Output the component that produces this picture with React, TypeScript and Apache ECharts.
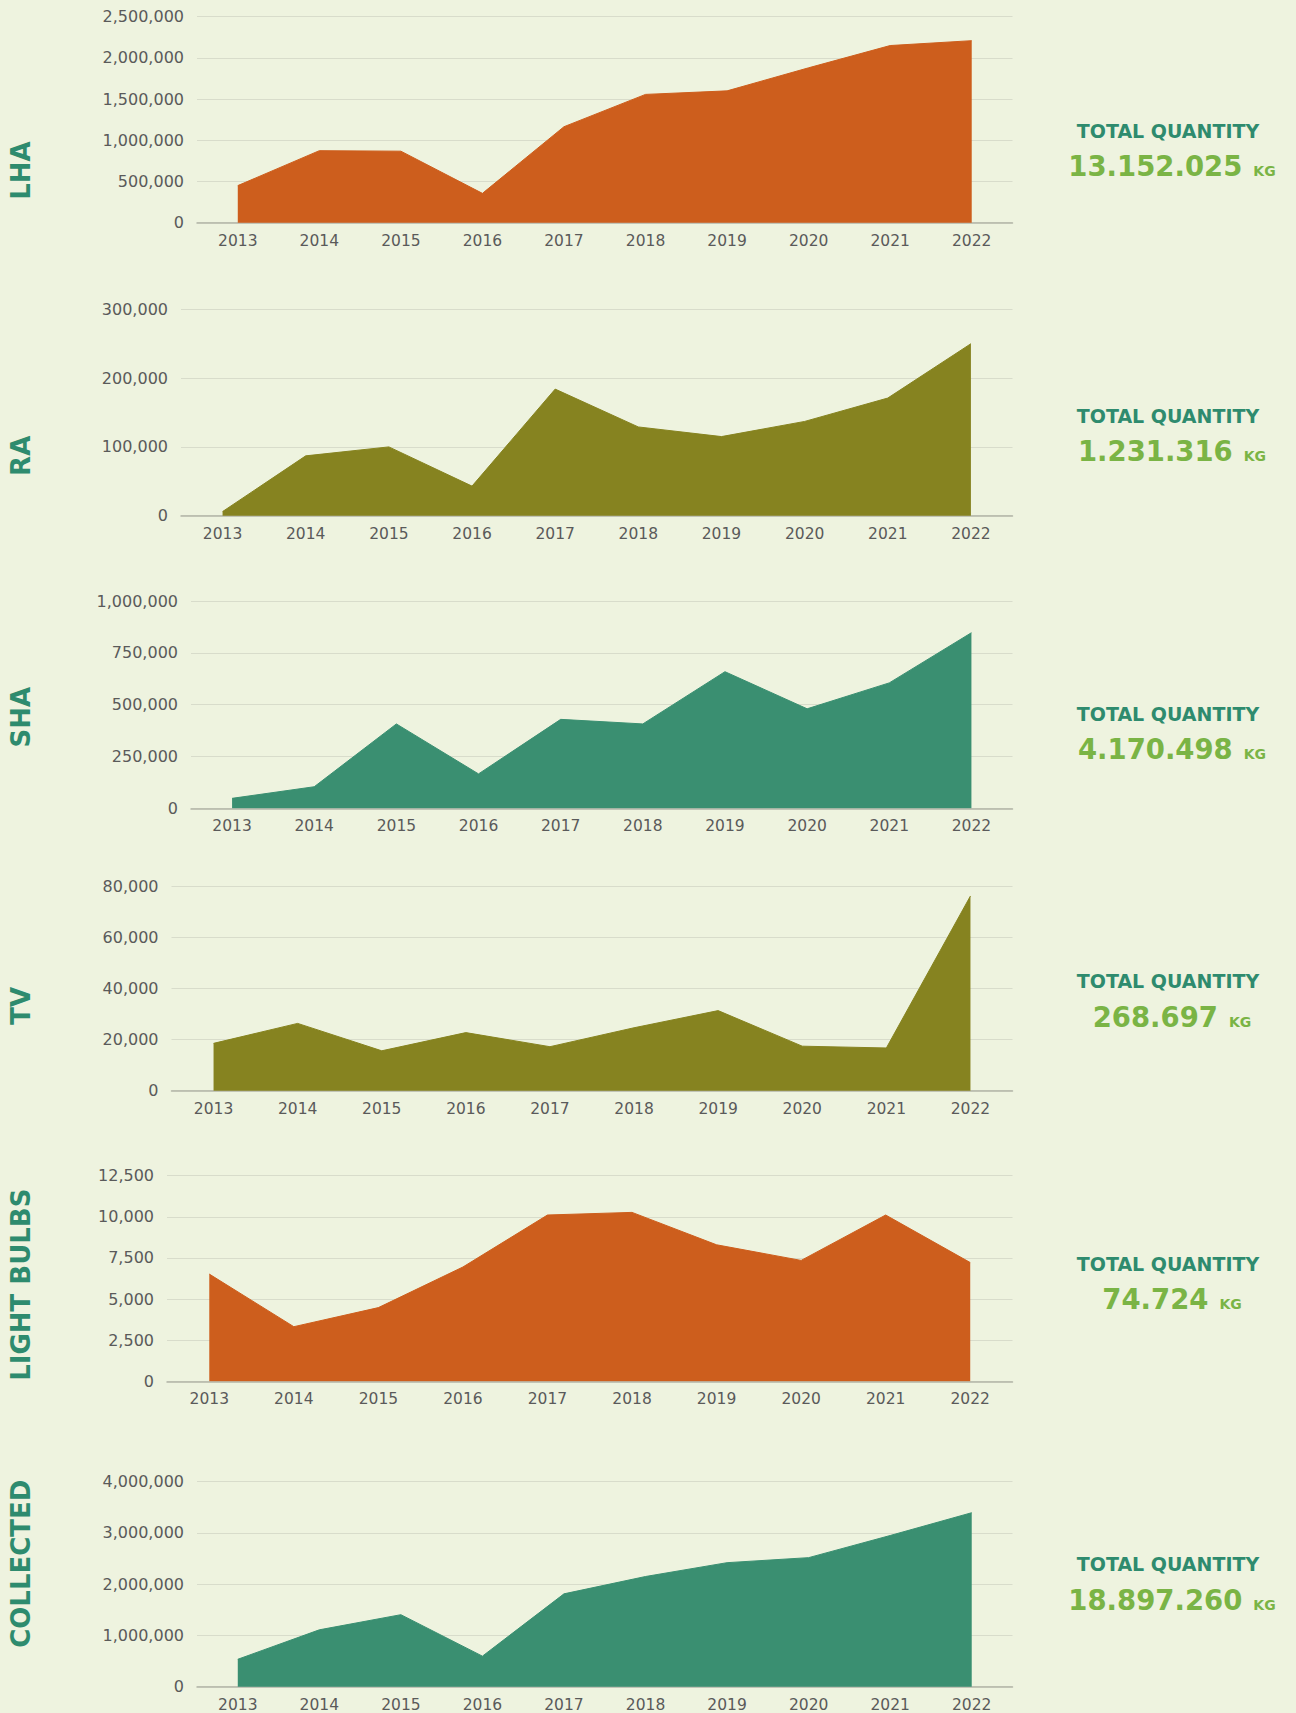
import React, { useEffect, useRef } from "react";
import * as echarts from "echarts";

const YEARS = ["2013", "2014", "2015", "2016", "2017", "2018", "2019", "2020", "2021", "2022"];

const LHA = [450000, 874000, 868000, 356000, 1165000, 1557000, 1600000, 1880000, 2150000, 2209000];
const RA = [6000, 87000, 100000, 43000, 184000, 129000, 115000, 137000, 171000, 250000];
const SHA = [48000, 104000, 407000, 166000, 429000, 407000, 659000, 480000, 605000, 847000];
const TV = [18500, 26300, 15600, 22700, 17200, 24600, 31300, 17400, 16700, 76100];
const BULBS = [6520, 3320, 4480, 6950, 10110, 10270, 8300, 7350, 10110, 7220];
const COLLECTED = [535000, 1110000, 1405000, 596000, 1812000, 2150000, 2420000, 2518000, 2950000, 3395000];

const NAMES = ["LHA", "RA", "SHA", "TV", "LIGHT BULBS", "COLLECTED"];
const TOTALS = ["13.152.025", "1.231.316", "4.170.498", "268.697", "74.724", "18.897.260"];
const Y_MAX = [2500000, 300000, 1000000, 80000, 12500, 4000000];
const Y_STEP = [500000, 100000, 250000, 20000, 2500, 1000000];

const SERIES = [LHA, RA, SHA, TV, BULBS, COLLECTED];

// layout (pixels)
const ORANGE = "#cd5e1d";
const OLIVE = "#868320";
const TEAL = "#3a8f71";
const COLORS = [ORANGE, OLIVE, TEAL, OLIVE, ORANGE, TEAL];
const G_LEFT = [197, 181, 191, 171.5, 167, 197];
const G_TOP = [16.7, 309.3, 601, 886, 1175.7, 1481.7];
const G_H = [206, 206.4, 207.3, 204.7, 205.6, 205];
const G_RIGHT = 1012.5;
const NAME_Y = [170.5, 455.8, 717.3, 1005.8, 1284.7, 1563.7];
const TOT_Y = [131, 416.3, 713.5, 981.3, 1264.3, 1563.7];
const NUM_Y = [166, 451.3, 748.5, 1017.3, 1299.2, 1599.7];

const BG = "#eef3df";
const TICK_FONT = "DejaVu Sans";

export default function App() {
  const ref = useRef<HTMLDivElement>(null);

  useEffect(() => {
    document.body.style.margin = "0";
    document.body.style.background = BG;
    const chart = echarts.init(ref.current!, null, { renderer: "svg" });

    const grids: any[] = [];
    const xAxes: any[] = [];
    const yAxes: any[] = [];
    const series: any[] = [];
    const graphics: any[] = [];

    SERIES.forEach((data, i) => {
      grids.push({
        left: G_LEFT[i],
        top: G_TOP[i],
        width: G_RIGHT - G_LEFT[i],
        height: G_H[i],
        containLabel: false,
      });
      xAxes.push({
        type: "category",
        gridIndex: i,
        data: YEARS,
        boundaryGap: true,
        axisLine: { show: true, lineStyle: { color: "#b2b5a8", width: 1.5 } },
        axisTick: { show: false },
        axisLabel: { color: "#5a5a5a", fontSize: 15.5, fontFamily: TICK_FONT, margin: 10 },
        splitLine: { show: false },
      });
      yAxes.push({
        type: "value",
        gridIndex: i,
        min: 0,
        max: Y_MAX[i],
        interval: Y_STEP[i],
        axisLine: { show: false },
        axisTick: { show: false },
        axisLabel: {
          color: "#5a5a5a",
          fontSize: 16,
          fontFamily: TICK_FONT,
          margin: 13,
          formatter: (v: number) => v.toLocaleString("en-US"),
        },
        splitLine: { lineStyle: { color: "#d8dccb", width: 1.2 } },
      });
      series.push({
        type: "line",
        xAxisIndex: i,
        yAxisIndex: i,
        data,
        symbol: "none",
        lineStyle: { width: 1, color: COLORS[i] },
        itemStyle: { color: COLORS[i] },
        areaStyle: { color: COLORS[i], opacity: 1 },
      });
      graphics.push({
        type: "text",
        x: 20.5,
        y: NAME_Y[i],
        rotation: Math.PI / 2,
        style: {
          text: NAMES[i],
          fill: "#2e8b6e",
          font: 'bold 26px "DejaVu Sans"',
          align: "center",
          verticalAlign: "middle",
        },
      });
      graphics.push({
        type: "text",
        x: 1168,
        y: TOT_Y[i],
        style: {
          text: "TOTAL QUANTITY",
          fill: "#2e8b6e",
          font: 'bold 19px "DejaVu Sans"',
          align: "center",
          verticalAlign: "middle",
        },
      });
      graphics.push({
        type: "text",
        x: 1172,
        y: NUM_Y[i],
        style: {
          text: "{n|" + TOTALS[i] + "}{k|KG}",
          align: "center",
          verticalAlign: "middle",
          rich: {
            n: {
              fill: "#7ab445",
              fontFamily: "DejaVu Sans",
              fontWeight: "bold",
              fontSize: 27.5,
              lineHeight: 32,
            },
            k: {
              fill: "#7ab445",
              fontFamily: "DejaVu Sans",
              fontWeight: "bold",
              fontSize: 14,
              lineHeight: 14,
              verticalAlign: "bottom",
              padding: [0, 0, 4, 11],
            },
          },
        },
      });
    });

    chart.setOption({
      animation: false,
      backgroundColor: BG,
      grid: grids,
      xAxis: xAxes,
      yAxis: yAxes,
      series,
      graphic: { elements: graphics },
    });

    return () => chart.dispose();
  }, []);

  return <div ref={ref} style={{ width: 1296, height: 1713, background: BG }} />;
}
